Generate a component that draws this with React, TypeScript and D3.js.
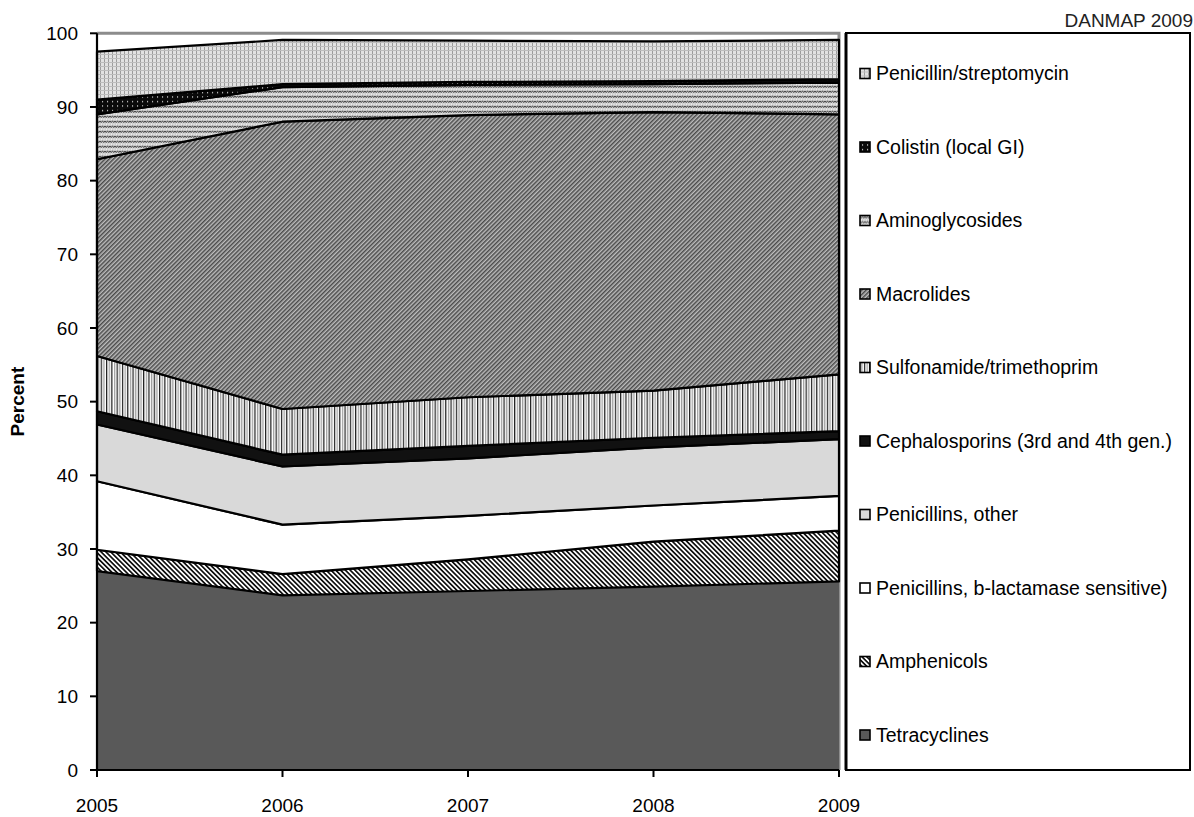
import React from "react";
import * as d3 from "d3";

// Share of antimicrobial consumption by class, percent of total (cumulative stack bottom → top)
const years = [2005, 2006, 2007, 2008, 2009];
const tetracyclines = [27.0, 23.7, 24.3, 24.9, 25.6];
const amphenicols = [2.9, 2.9, 4.3, 6.1, 6.9];
const penicillinsBLactamase = [9.3, 6.7, 5.9, 4.9, 4.7];
const penicillinsOther = [7.7, 7.9, 7.8, 7.9, 7.7];
const cephalosporins = [1.8, 1.6, 1.7, 1.3, 1.1];
const sulfonamide = [7.5, 6.2, 6.6, 6.4, 7.7];
const macrolides = [26.7, 39.0, 38.3, 37.8, 35.3];
const aminoglycosides = [6.1, 4.7, 4.1, 3.8, 4.3];
const colistin = [2.0, 0.4, 0.4, 0.4, 0.5];
const penicillinStreptomycin = [6.5, 6.0, 5.6, 5.4, 5.3];

const yTicks = [0, 10, 20, 30, 40, 50, 60, 70, 80, 90, 100];

const seriesKeys = [
  "tetra",
  "amph",
  "penB",
  "penOther",
  "ceph",
  "sulf",
  "macro",
  "amino",
  "colistin",
  "penStrep",
];
const seriesLabels: Record<string, string> = {
  tetra: "Tetracyclines",
  amph: "Amphenicols",
  penB: "Penicillins, b-lactamase sensitive)",
  penOther: "Penicillins, other",
  ceph: "Cephalosporins (3rd and 4th gen.)",
  sulf: "Sulfonamide/trimethoprim",
  macro: "Macrolides",
  amino: "Aminoglycosides",
  colistin: "Colistin (local GI)",
  penStrep: "Penicillin/streptomycin",
};
const seriesValues: Record<string, number[]> = {
  tetra: tetracyclines,
  amph: amphenicols,
  penB: penicillinsBLactamase,
  penOther: penicillinsOther,
  ceph: cephalosporins,
  sulf: sulfonamide,
  macro: macrolides,
  amino: aminoglycosides,
  colistin: colistin,
  penStrep: penicillinStreptomycin,
};
const fills: Record<string, string> = {
  tetra: "#595959",
  amph: "url(#pat-amph)",
  penB: "#ffffff",
  penOther: "#d9d9d9",
  ceph: "#111111",
  sulf: "url(#pat-sulf)",
  macro: "url(#pat-macro)",
  amino: "url(#pat-amino)",
  colistin: "url(#pat-colistin)",
  penStrep: "url(#pat-penstrep)",
};

export default function App() {
  const W = 1194;
  const H = 817;
  const plot = { left: 97, right: 839, top: 33.3, bottom: 770 };

  const x = d3.scaleLinear().domain([2005, 2009]).range([plot.left, plot.right]);
  const y = d3.scaleLinear().domain([0, 100]).range([plot.bottom, plot.top]);

  const rows = years.map((yr, i) => {
    const r: Record<string, number> = { year: yr };
    seriesKeys.forEach((k) => (r[k] = seriesValues[k][i]));
    return r;
  });
  const stacked = d3.stack<Record<string, number>>().keys(seriesKeys)(rows);

  const area = d3
    .area<d3.SeriesPoint<Record<string, number>>>()
    .x((d) => x(d.data.year))
    .y0((d) => y(d[0]))
    .y1((d) => y(d[1]));

  const legend = { left: 846, right: 1190, top: 33, bottom: 770 };
  const legendOrder = [...seriesKeys].reverse();
  const legendY = d3
    .scaleLinear()
    .domain([0, legendOrder.length - 1])
    .range([73.5, 735]);

  const font = "'Liberation Sans', Arial, sans-serif";

  return (
    <svg
      width={W}
      height={H}
      style={{ position: "absolute", left: 0, top: 0, background: "#fff" }}
      fontFamily={font}
    >
      <defs>
        <pattern id="pat-amph" width={3.4} height={3.4} patternUnits="userSpaceOnUse" patternTransform="rotate(-45)">
          <rect width={3.4} height={3.4} fill="#fff" />
          <rect width={1.7} height={3.4} fill="#111" />
        </pattern>
        <pattern id="pat-macro" width={3} height={3} patternUnits="userSpaceOnUse" patternTransform="rotate(45)">
          <rect width={3} height={3} fill="#bdbdbd" />
          <rect width={1.5} height={3} fill="#4a4a4a" />
        </pattern>
        <pattern id="pat-sulf" width={5.3} height={4} patternUnits="userSpaceOnUse">
          <rect width={5.3} height={4} fill="#fff" />
          <rect x={0} width={1.2} height={4} fill="#1a1a1a" />
          <rect x={2.7} width={1.2} height={4} fill="#9a9a9a" />
        </pattern>
        <pattern id="pat-amino" width={5} height={5} patternUnits="userSpaceOnUse">
          <rect width={5} height={5} fill="#cfcfcf" />
          <path d="M0,0.8 L1.25,2.6 L2.5,0.8 L3.75,2.6 L5,0.8" fill="none" stroke="#3c3c3c" strokeWidth={0.9} />
          <rect x={1} y={3.6} width={1} height={1} fill="#fff" />
          <rect x={3.5} y={3.6} width={1} height={1} fill="#fff" />
        </pattern>
        <pattern id="pat-colistin" width={5} height={4.5} patternUnits="userSpaceOnUse">
          <rect width={5} height={4.5} fill="#0a0a0a" />
          <rect x={2} y={2} width={1.1} height={1.1} fill="#fff" />
        </pattern>
        <pattern id="pat-penstrep" width={4} height={4} patternUnits="userSpaceOnUse">
          <rect width={4} height={4} fill="#e2e2e2" />
          <rect x={0} width={1} height={4} fill="#9c9c9c" />
          <rect y={2} width={4} height={1} fill="#bdbdbd" />
        </pattern>
      </defs>

      {/* plot frame (top and right) */}
      <path
        d={`M${plot.left},${plot.top} H${plot.right} V${plot.bottom}`}
        fill="none"
        stroke="#8c8c8c"
        strokeWidth={3}
      />

      {/* stacked areas */}
      {stacked.map((s) => (
        <path
          key={s.key}
          d={area(s) || ""}
          fill={fills[s.key]}
          stroke={s.key === "tetra" ? "none" : "#000"}
          strokeWidth={2.2}
          strokeLinejoin="round"
        />
      ))}

      {/* y axis */}
      <line x1={plot.left} x2={plot.left} y1={plot.top} y2={plot.bottom} stroke="#000" strokeWidth={2.2} />
      {yTicks.map((t) => (
        <g key={t}>
          <line x1={plot.left - 7} x2={plot.left} y1={y(t)} y2={y(t)} stroke="#000" strokeWidth={2} />
          <text x={78} y={y(t)} dy="0.35em" textAnchor="end" fontSize={19}>
            {t}
          </text>
        </g>
      ))}
      <text
        transform={`translate(24, ${(plot.top + plot.bottom) / 2}) rotate(-90)`}
        textAnchor="middle"
        fontSize={19}
        fontWeight="bold"
      >
        Percent
      </text>

      {/* x axis */}
      <line x1={plot.left} x2={plot.right} y1={plot.bottom} y2={plot.bottom} stroke="#000" strokeWidth={2.2} />
      {years.map((yr) => (
        <g key={yr}>
          <line x1={x(yr)} x2={x(yr)} y1={plot.bottom} y2={plot.bottom + 7} stroke="#000" strokeWidth={2} />
          <text x={x(yr)} y={812} textAnchor="middle" fontSize={19}>
            {yr}
          </text>
        </g>
      ))}

      {/* legend */}
      <rect
        x={legend.left}
        y={legend.top}
        width={legend.right - legend.left}
        height={legend.bottom - legend.top}
        fill="#fff"
        stroke="#000"
        strokeWidth={2}
      />
      <line x1={legend.left} x2={legend.left} y1={legend.top} y2={legend.bottom} stroke="#000" strokeWidth={3} />
      {legendOrder.map((k, i) => (
        <g key={k} transform={`translate(0, ${legendY(i)})`}>
          <rect x={860} y={-5} width={10} height={10} fill={fills[k]} stroke="#000" strokeWidth={1.6} />
          <text x={876} y={0} dy="0.35em" fontSize={19.5}>
            {seriesLabels[k]}
          </text>
        </g>
      ))}

      <text x={1193} y={27} textAnchor="end" fontSize={19} fill="#222">
        DANMAP 2009
      </text>
    </svg>
  );
}
